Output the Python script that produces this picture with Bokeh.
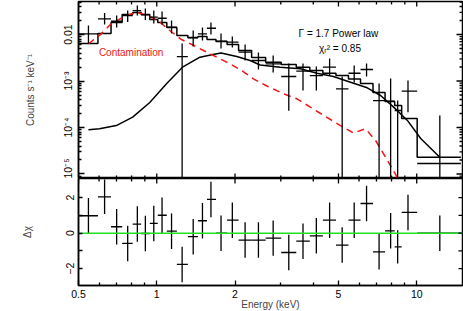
import math
from bokeh.plotting import figure
from bokeh.models import Range1d, FixedTicker, Label, ColumnDataSource
from bokeh.layouts import column
from bokeh.embed import file_html
from bokeh.resources import INLINE

# ---- data ----
e_edges = [0.5, 0.594, 0.667, 0.736, 0.808, 0.871, 0.940, 1.009, 1.093, 1.195, 1.317, 1.440,
           1.560, 1.690, 1.864, 2.064, 2.317, 2.624, 3.011, 3.441, 3.880, 4.355, 4.890, 5.464,
           6.079, 6.79, 7.555, 8.227, 8.752, 10.04, 14.79]
e_mid = [0.546, 0.630, 0.701, 0.773, 0.842, 0.904, 0.974, 1.048, 1.140, 1.252, 1.381, 1.499,
         1.616, 1.767, 1.953, 2.187, 2.461, 2.804, 3.220, 3.652, 4.110, 4.623, 5.167, 5.748,
         6.412, 7.165, 7.937, 8.446, 9.256, 12.27]
flux = [0.01035, 0.0218, 0.0193, 0.0256, 0.0328, 0.0265, 0.0236, 0.0224, 0.01435, 0.00336,
        0.0085, 0.01035, 0.01365, 0.00717, 0.00683, 0.00416, 0.00276, 0.00234, 0.00125, 0.00163,
        0.00131, 0.00198, 0.00068, 0.00147, 0.00177, 0.00038, 0.000368, 0.000232, 0.000604, 1.68e-5]
flux_hi = [0.0156, 0.029, 0.0256, 0.0328, 0.042, 0.0362, 0.0328, 0.0313, 0.020, 0.0064,
           0.0122, 0.0142, 0.0181, 0.0105, 0.0091, 0.0061, 0.0041, 0.00353, 0.00238, 0.00238,
           0.00205, 0.00305, 0.00125, 0.00215, 0.00238, 0.00088, 0.00113, 0.00038, 0.00103, 0.000181]
flux_lo = [0.0064, 0.0164, 0.0142, 0.0186, 0.0256, 0.0205, 0.0173, 0.0164, 0.0105, 1e-7,
           0.0055, 0.0074, 0.0100, 0.0050, 0.00525, 0.00276, 0.00177, 0.00152, 0.00023, 0.000625,
           0.000625, 0.00131, 1e-7, 0.00093, 0.00125, 1e-7, 1e-7, 1e-7, 0.000213, 1e-7]
model = [0.0064, 0.0105, 0.0181, 0.0269, 0.0297, 0.0269, 0.0210, 0.0181, 0.0142, 0.0095,
         0.0086, 0.0091, 0.0078, 0.00706, 0.0061, 0.00453, 0.0032, 0.00254, 0.00226, 0.00198,
         0.00168, 0.00147, 0.00131, 0.00111, 0.00088, 0.000566, 0.000362, 0.000297, 0.000156, 2.30e-5]
chi = [0.98, 2.05, 0.36, -0.58, 0.51, -0.02, 0.55, 1.01, 0.11, -1.76, -0.2, 0.7, 1.9, 0.0, 0.73,
       -0.39, -0.39, -0.28, -1.09, -0.45, -0.15, 0.73, -0.67, 0.73, 1.67, -1.05, 0.13, -0.77, 1.17, 0.0]
chi_err = [1.0, 0.97, 1.0, 1.0, 1.0, 1.0, 1.0, 1.0, 1.0, 1.0, 1.0, 1.0, 1.0, 1.0, 1.0,
           1.0, 1.0, 1.0, 1.0, 1.0, 1.0, 1.0, 1.0, 1.0, 1.0, 1.0, 1.0, 0.94, 1.0, 1.0]

pl_e = [0.546, 0.602, 0.699, 0.808, 0.940, 1.090, 1.256, 1.466, 1.645, 1.767, 2.031, 2.286,
        2.498, 2.985, 3.566, 4.136, 4.781, 5.563, 6.452, 7.261, 8.152, 9.207, 10.36, 12.27]
pl_f = [8.93e-5, 9.38e-5, 1.10e-4, 1.67e-4, 3.45e-4, 8.71e-4, 1.98e-3, 3.25e-3, 3.72e-3,
        4.00e-3, 3.37e-3, 2.76e-3, 2.21e-3, 1.98e-3, 1.83e-3, 1.47e-3, 1.25e-3, 9.42e-4,
        7.14e-4, 4.88e-4, 2.74e-4, 1.42e-4, 5.80e-5, 2.30e-5]

cont_e = [0.546, 0.612, 0.668, 0.752, 0.835, 0.912, 1.012, 1.122, 1.245, 1.365, 1.602, 1.858,
          2.092, 2.354, 2.652, 3.074, 3.462, 3.896, 4.453, 5.089, 5.711, 6.357, 6.946, 7.592,
          8.425, 9.256]
cont_f = [6.31e-3, 1.035e-2, 1.70e-2, 2.44e-2, 3.02e-2, 2.62e-2, 2.00e-2, 1.22e-2, 7.80e-3,
          6.09e-3, 3.85e-3, 2.54e-3, 1.77e-3, 1.11e-3, 7.80e-4, 5.31e-4, 4.14e-4, 2.74e-4,
          1.73e-4, 1.10e-4, 7.62e-5, 9.38e-5, 5.25e-5, 2.30e-5, 8.4e-6, 2e-6]

x_major = [0.5, 1, 2, 5, 10]
x_minor = [0.6, 0.7, 0.8, 0.9, 3, 4, 6, 7, 8, 9]
x_labels = {0.5: "0.5", 1: "1", 2: "2", 5: "5", 10: "10"}
y_major = [1e-5, 1e-4, 1e-3, 1e-2]
y_minor = [m * d for d in [1e-6, 1e-5, 1e-4, 1e-3, 1e-2] for m in range(2, 10)]
y_labels = {1e-5: "10⁻⁵", 1e-4: "10⁻⁴", 1e-3: "10⁻³", 1e-2: "0.01"}
r_major = [-2, -1, 0, 1, 2]
r_labels = {-2: "−2", -1: "", 0: "0", 1: "", 2: "2"}

FONT = "Liberation Sans"
TW = 1.3


def style(ax, major, minor, tin=5, tmin=3, overrides=None):
    ax.ticker = FixedTicker(ticks=major, minor_ticks=minor)
    ax.major_tick_in = tin
    ax.major_tick_out = 0
    ax.minor_tick_in = tmin
    ax.minor_tick_out = 0
    ax.axis_line_width = 1.5
    ax.major_tick_line_width = TW
    ax.minor_tick_line_width = TW
    ax.major_label_text_font = FONT
    ax.major_label_text_font_size = "10.5px"
    ax.major_label_text_color = "black"
    ax.axis_label_text_font = FONT
    ax.axis_label_text_font_style = "normal"
    ax.axis_label_text_font_size = "10px"
    if overrides:
        ax.major_label_overrides = overrides


def edge_ticks(p, ticks, length, side):
    # inward tick marks on edges without a labelled axis
    xr_, yr_ = p.x_range, p.y_range
    if side == "top":
        p.ray(x=ticks, y=[yr_.end] * len(ticks), length=length, length_units="screen",
              angle=-math.pi / 2, line_color="black", line_width=TW)
    elif side == "bottom":
        p.ray(x=ticks, y=[yr_.start] * len(ticks), length=length, length_units="screen",
              angle=math.pi / 2, line_color="black", line_width=TW)
    elif side == "right":
        p.ray(x=[xr_.end] * len(ticks), y=ticks, length=length, length_units="screen",
              angle=math.pi, line_color="black", line_width=TW)


xr = Range1d(0.5, 15)
yr_top = Range1d(8.0e-6, 0.0513)

top = figure(x_axis_type="log", y_axis_type="log", x_range=xr, y_range=yr_top,
             x_axis_location=None,
             frame_width=384, frame_height=177, min_border_left=78, min_border_right=1,
             min_border_top=1, min_border_bottom=0, output_backend="svg", toolbar_location=None)
top.grid.visible = False
top.outline_line_color = "black"
top.outline_line_width = 1.5
ly = top.left[0]
style(ly, y_major, y_minor, tin=6, tmin=3, overrides=y_labels)
ly.major_label_orientation = "parallel"
ly.major_label_standoff = 4
ly.axis_label = "Counts s⁻¹ keV⁻¹"
ly.axis_label_standoff = 24

src = ColumnDataSource(dict(e_lo=e_edges[:-1], e_hi=e_edges[1:], e=e_mid, f=flux,
                            flo=flux_lo, fhi=flux_hi, chi=chi,
                            clo=[c - s for c, s in zip(chi, chi_err)],
                            chi_hi=[c + s for c, s in zip(chi, chi_err)]))

top.step(x=e_edges, y=model + [model[-1]], mode="after", line_color="black", line_width=1.5)
top.line(pl_e, pl_f, line_color="black", line_width=1.5)
top.line(cont_e, cont_f, line_color="#f01414", line_width=1.5, line_dash="7 5")
top.segment(x0="e_lo", x1="e_hi", y0="f", y1="f", source=src, line_color="black", line_width=1.3)
top.segment(x0="e", x1="e", y0="flo", y1="fhi", source=src, line_color="black", line_width=1.3)

edge_ticks(top, x_major, 5, "top")
edge_ticks(top, x_minor, 3, "top")
edge_ticks(top, x_major, 5, "bottom")
edge_ticks(top, x_minor, 3, "bottom")
edge_ticks(top, y_major, 6, "right")
edge_ticks(top, [v for v in y_minor if yr_top.start < v < yr_top.end], 3, "right")

top.add_layout(Label(x=5.0, y=0.0105, text="Γ = 1.7 Power law", text_align="center",
                     text_baseline="middle", text_font=FONT, text_font_size="10px", text_color="black"))
top.add_layout(Label(x=5.07, y=0.00492, text="χᵣ² = 0.85", text_align="center",
                     text_baseline="middle", text_font=FONT, text_font_size="10px", text_color="black"))
top.add_layout(Label(x=0.797, y=0.00403, text="Contamination", text_align="center",
                     text_baseline="middle", text_font=FONT, text_font_size="10px", text_color="#f01414"))

bot = figure(x_axis_type="log", x_range=xr, y_range=Range1d(-2.95, 3.08),
             frame_width=384, frame_height=107, min_border_left=78, min_border_right=1,
             min_border_top=0, min_border_bottom=0, output_backend="svg", toolbar_location=None)
bot.grid.visible = False
bot.outline_line_color = "black"
bot.outline_line_width = 1.5
bx = bot.below[0]
style(bx, x_major, x_minor, overrides=x_labels)
bx.major_label_standoff = 4
bx.axis_label = "Energy (keV)"
bx.axis_label_standoff = -2
lb = bot.left[0]
style(lb, r_major, [], tin=4, overrides=r_labels)
lb.major_label_orientation = "parallel"
lb.major_label_standoff = 4
lb.axis_label = "Δχ"
lb.axis_label_standoff = 31

bot.segment(x0="e_lo", x1="e_hi", y0="chi", y1="chi", source=src, line_color="black", line_width=1.3)
bot.segment(x0="e", x1="e", y0="clo", y1="chi_hi", source=src, line_color="black", line_width=1.3)
bot.line([0.5, 15], [0, 0], line_color="#22e022", line_width=1.5)
edge_ticks(bot, x_major, 5, "top")
edge_ticks(bot, x_minor, 3, "top")
edge_ticks(bot, r_major, 4, "right")

layout = column(top, bot, spacing=0)

open("out.html", "w").write(file_html(layout, INLINE))
